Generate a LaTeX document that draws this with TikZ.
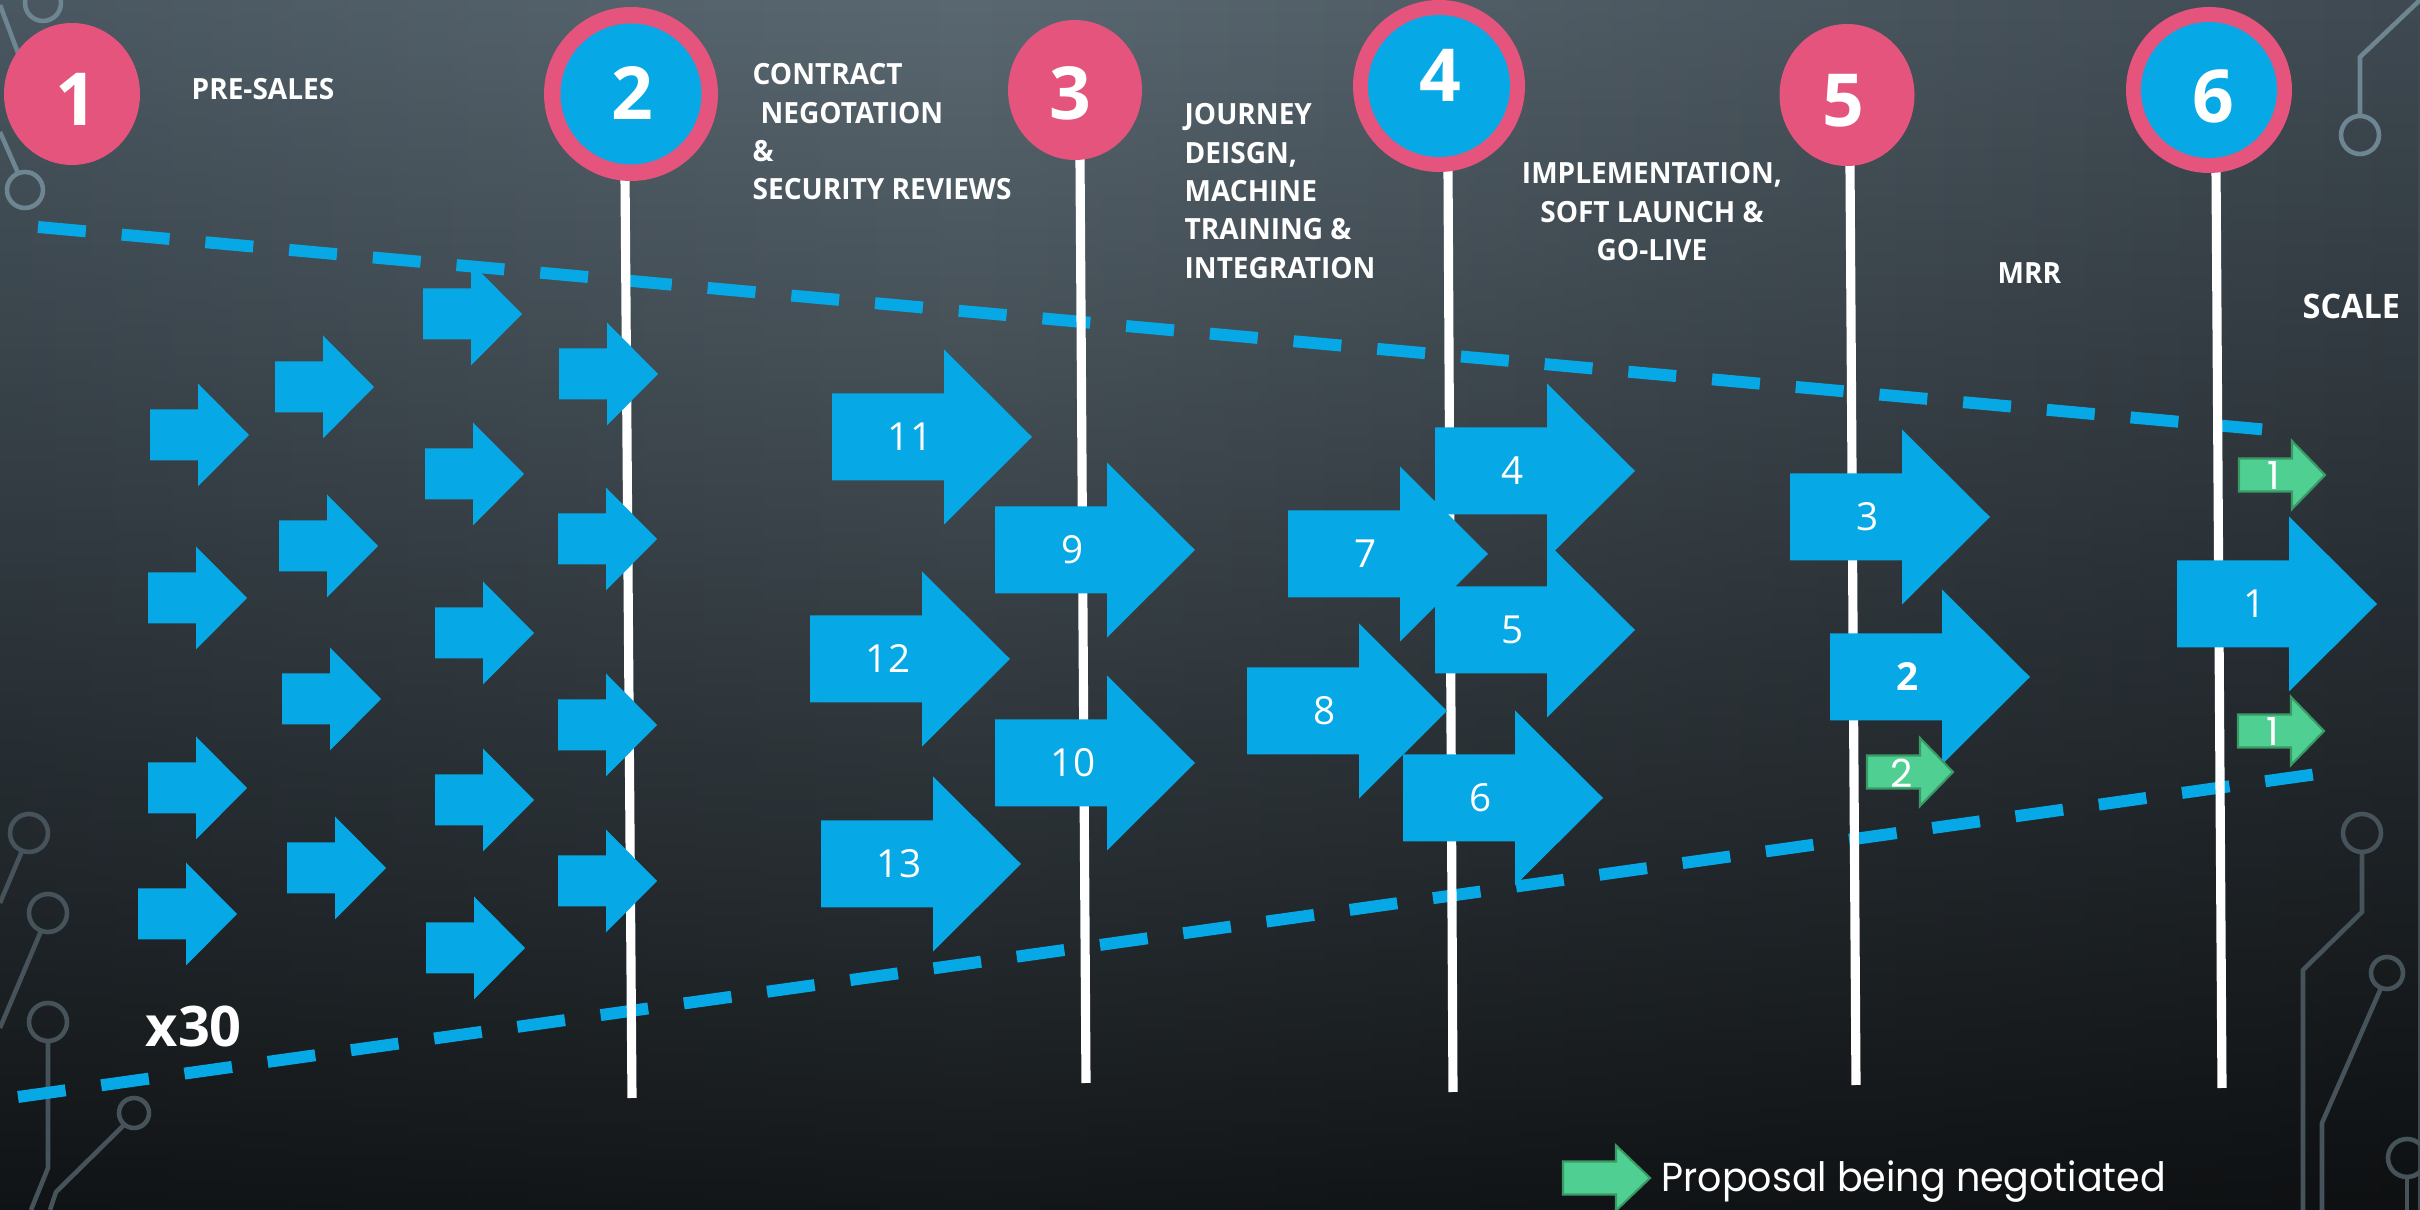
\documentclass[tikz,border=0pt]{standalone}
\usepackage{fontspec}
\setmainfont{Open Sans}
\newfontfamily\lblfont[FakeStretch=0.96]{Open Sans}
\newfontfamily\legendfont{Poppins}
\newfontfamily\legendnarrow[FakeStretch=0.94]{Poppins}
\usetikzlibrary{fadings}
\definecolor{pinkc}{HTML}{E4547C}
\definecolor{bluec}{HTML}{06A9E6}
\definecolor{greenc}{HTML}{4FD092}
\definecolor{greenb}{HTML}{3A9A66}
\definecolor{circA}{HTML}{6E8592}
\definecolor{circB}{HTML}{46535B}
\definecolor{bgL}{HTML}{36434D}
\definecolor{bgM}{HTML}{5A6871}
\definecolor{bgR}{HTML}{283037}
\pgfdeclarehorizontalshading{bgh}{100bp}{color(0bp)=(bgL); color(45bp)=(bgM); color(100bp)=(bgR)}
\tikzfading[name=vfade, top color=transparent!100, middle color=transparent!62, bottom color=transparent!22]
\tikzset{
  lbl/.style={text=white, inner sep=0pt, font=\lblfont\bfseries\fontsize{8.3}{10.9}\selectfont},
  digit/.style={text=white, inner sep=0pt, font=\bfseries\fontsize{20.8}{24}\selectfont},
  numtxt/.style={text=white, inner sep=0pt, font=\fontsize{11}{13}\selectfont},
  greentxt/.style={text=white, inner sep=0pt, font=\legendfont\fontsize{11}{13}\selectfont},
  dashline/.style={draw=bluec, line width=3.4pt, dash pattern=on 13.66pt off 10.24pt},
  stem/.style={draw=white, line width=2.6pt},
  circA line/.style={draw=circA, line width=1.3pt},
  circB line/.style={draw=circB, line width=1.3pt},
  greenarr/.style={fill=greenc, draw=greenb, line width=0.6pt},
}
\newcommand\BigArr[4]{%
  \fill[bluec] (#2,#3) ++(0,-43.5) -- ++(112,0) -- ++(0,-44) -- ++(88,87.5) -- ++(-88,87.5) -- ++(0,-44) -- ++(-112,0) -- cycle;
  \node[numtxt] (#1) at (#2+78,#3) {#4};}
\newcommand\SmallArr[2]{%
  \fill[bluec] (#1,#2) ++(0,-25.5) -- ++(48,0) -- ++(0,-26) -- ++(51,51.5) -- ++(-51,51.5) -- ++(0,-26) -- ++(-48,0) -- cycle;}
\newcommand\GreenArr[4]{%
  \filldraw[greenarr] (#2,#3) ++(0,-16.5) -- ++(53,0) -- ++(0,-17.5) -- ++(33,34) -- ++(-33,34) -- ++(0,-17.5) -- ++(-53,0) -- cycle;
  \node[greentxt] (#1) at (#2+35,#3+1) {#4};}
\begin{document}
\begin{tikzpicture}[x=0.01cm, y=-0.01cm]
\useasboundingbox (0,0) rectangle (2420,1210);
% background
\shade[shading=bgh] (0,0) rectangle (2420,1210);
\fill[black, path fading=vfade] (0,0) rectangle (2420,1210);
% circuit decorations
\draw[circA line] (0,5) -- (30,85);
\draw[circA line] (43,3) circle [radius=18];
\draw[circA line] (0,132) -- (18,173);
\draw[circA line] (25,190) circle [radius=18];
\draw[circA line] (2420,0) -- (2360,57) -- (2360,116);
\draw[circA line] (2360,135) circle [radius=19];
\draw[circB line] (29,833) circle [radius=19];
\draw[circB line] (22,851) -- (0,903);
\draw[circB line] (48,913) circle [radius=19];
\draw[circB line] (41,931) -- (0,1028);
\draw[circB line] (48,1022) circle [radius=19];
\draw[circB line] (48,1041) -- (48,1168) -- (31,1210);
\draw[circB line] (134,1113) circle [radius=15];
\draw[circB line] (124,1125) -- (56,1192) -- (50,1210);
\draw[circB line] (2362,833) circle [radius=19];
\draw[circB line] (2362,852) -- (2362,912) -- (2303,970) -- (2303,1210);
\draw[circB line] (2387,973) circle [radius=16];
\draw[circB line] (2381,988) -- (2322,1123) -- (2322,1210);
\draw[circB line] (2407,1158) circle [radius=19];
\draw[circB line] (2407,1177) -- (2407,1210);
% dashed funnel
\draw[dashline] (38,227) -- (2291,432);
\draw[dashline] (18,1097) -- (2317,774);
% stems
\draw[stem] (625,175) -- (632,1098);
\draw[stem] (1080,158) -- (1086,1083);
\draw[stem] (1448,168) -- (1453,1092);
\draw[stem] (1850,165) -- (1856,1085);
\draw[stem] (2216,168) -- (2222,1088);
% stage circles
\fill[pinkc] (72,94) ellipse [x radius=68, y radius=71];
\fill[pinkc] (631,94) circle [radius=87];
\fill[bluec] (631,94) circle [radius=70.5];
\fill[pinkc] (1075,90) ellipse [x radius=67, y radius=70];
\fill[pinkc] (1439,86) circle [radius=86];
\fill[bluec] (1439,86) circle [radius=71];
\fill[pinkc] (1847,95) ellipse [x radius=67.5, y radius=71];
\fill[pinkc] (2209,90) circle [radius=83];
\fill[bluec] (2209,90) circle [radius=68];
\node[digit] (s1) at (76,99) {1};
\node[digit] (s2) at (632,93) {2};
\node[digit] (s3) at (1070,93) {3};
\node[digit] (s4) at (1440,75) {4};
\node[digit] (s5) at (1843,101) {5};
\node[digit] (s6) at (2213,96) {6};
% stage labels
\node[lbl, anchor=north west] (l1) at (191,78) {PRE-SALES};
\node[lbl, anchor=north west, align=left] (l2) at (752,63) {CONTRACT\\\hspace*{0.8mm}NEGOTATION\\\&\\SECURITY REVIEWS};
\node[lbl, anchor=north west, align=left] (l3) at (1184,103) {JOURNEY\\DEISGN,\\MACHINE\\TRAINING \&\\INTEGRATION};
\node[lbl, anchor=north, align=center] (l4) at (1652,162) {IMPLEMENTATION,\\SOFT LAUNCH \&\\GO-LIVE};
\node[lbl, anchor=north west] (l5) at (1997,262) {MRR};
\node[lbl, anchor=north west, font=\lblfont\bfseries\fontsize{9.6}{11}\selectfont] (l6) at (2302,293) {SCALE};
\node[text=white, inner sep=0pt, anchor=base west, font=\bfseries\fontsize{15.9}{18}\selectfont] (x30) at (145,1047) {x30};
% small arrows (pre-sales pipeline)
\SmallArr{150}{435}
\SmallArr{148}{598}
\SmallArr{148}{788}
\SmallArr{138}{914}
\SmallArr{275}{387}
\SmallArr{279}{546}
\SmallArr{282}{699}
\SmallArr{287}{868}
\SmallArr{423}{314}
\SmallArr{425}{474}
\SmallArr{435}{633}
\SmallArr{435}{800}
\SmallArr{426}{948}
\SmallArr{559}{374}
\SmallArr{558}{539}
\SmallArr{558}{725}
\SmallArr{558}{881}
% numbered arrows
\BigArr{a11}{832}{437}{11}
\BigArr{a12}{810}{659}{12}
\BigArr{a13}{821}{864}{13}
\BigArr{a9}{995}{550}{9}
\BigArr{a10}{995}{763}{10}
\BigArr{a7}{1288}{554}{7}
\BigArr{a8}{1247}{711}{8}
\BigArr{a4}{1435}{471}{4}
\BigArr{a5}{1435}{630}{5}
\BigArr{a6}{1403}{798}{6}
\BigArr{a3}{1790}{517}{3}
\BigArr{a2}{1830}{677}{\textbf{2}}
\BigArr{a1}{2177}{604}{1}
% proposals being negotiated
\GreenArr{g1}{2239}{475}{1}
\GreenArr{g2}{2238}{731}{1}
\GreenArr{g3}{1867}{772}{2}
% legend
\filldraw[greenarr] (1563,1178) ++(0,-16.5) -- ++(53,0) -- ++(0,-16) -- ++(34,32.5) -- ++(-34,32.5) -- ++(0,-16) -- ++(-53,0) -- cycle;
\node[text=white, inner sep=0pt, anchor=base west, font=\legendnarrow\fontsize{11.5}{14}\selectfont] (leg) at (1661,1192) {Proposal being negotiated};
\end{tikzpicture}
\end{document}
